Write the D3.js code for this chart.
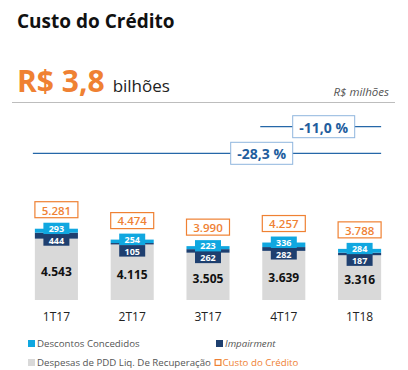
<!DOCTYPE html>
<html>
<head>
<meta charset="utf-8">
<script src="https://cdn.jsdelivr.net/npm/d3@7"></script>
<style>
  html, body { margin: 0; padding: 0; background: #fff; }
  svg { display: block; font-family: "Open Sans", sans-serif; }
</style>
</head>
<body>
<svg id="chart" width="408" height="370"></svg>
<script>
// values in R$ milhões
const quarters = ["1T17", "2T17", "3T17", "4T17", "1T18"];
const pdd = [4543, 4115, 3505, 3639, 3316];
const impairment = [444, 105, 262, 282, 187];
const descontos = [293, 254, 223, 336, 284];
const custo = [5281, 4474, 3990, 4257, 3788];
const custoLabels = ["5.281", "4.474", "3.990", "4.257", "3.788"];
const pddLabels = ["4.543", "4.115", "3.505", "3.639", "3.316"];
const variations = [
  { from: "4T17", to: "1T18", label: "-11,0 %" },
  { from: "1T17", to: "1T18", label: "-28,3 %" }
];

const colors = {
  descontos: "#10A7E0",
  impairment: "#1E3F6F",
  pdd: "#D9D9D9",
  custo: "#EF8133",
  blue: "#2567A8"
};

const svg = d3.select("#chart");

// header
svg.append("text").attr("x", 17).attr("y", 28)
  .attr("font-size", 19).attr("font-weight", 700).attr("fill", "#111")
  .text("Custo do Crédito");

const big = svg.append("text").attr("x", 17).attr("y", 92);
big.append("tspan").attr("font-size", 30).attr("font-weight", 700).attr("fill", colors.custo).text("R$ 3,8");
big.append("tspan").attr("dx", 8).attr("font-size", 17).attr("fill", "#222").text("bilhões");

svg.append("text").attr("x", 389).attr("y", 96).attr("text-anchor", "end")
  .attr("font-size", 11.5).attr("font-style", "italic").attr("fill", "#555")
  .text("R$ milhões");

svg.append("line").attr("x1", 12).attr("x2", 395).attr("y1", 102.5).attr("y2", 102.5)
  .attr("stroke", "#bdbdbd").attr("stroke-width", 1);

// scales
const x = d3.scaleBand().domain(quarters).range([18.5, 397.5]).paddingInner(0.432).paddingOuter(0.216);
const y = d3.scaleLinear().domain([0, 6000]).range([300, 300 - 6000 * 0.0135]);
const bw = x.bandwidth();

const rows = quarters.map((q, i) => ({
  q, pdd: pdd[i], impairment: impairment[i], descontos: descontos[i],
  custo: custo[i], custoLabel: custoLabels[i], pddLabel: pddLabels[i]
}));

const stack = d3.stack().keys(["pdd", "impairment", "descontos"])(rows);

svg.append("g").selectAll("g")
  .data(stack)
  .join("g")
  .attr("fill", d => colors[d.key])
  .selectAll("rect")
  .data(d => d)
  .join("rect")
  .attr("x", d => x(d.data.q))
  .attr("width", bw)
  .attr("y", d => y(d[1]))
  .attr("height", d => y(d[0]) - y(d[1]));

// labels inside / on bars
const lab = svg.append("g").selectAll("g").data(rows).join("g")
  .attr("transform", d => `translate(${x(d.q) + bw / 2},0)`);

// pdd value
lab.append("text")
  .attr("y", d => (y(d.pdd) + y(0)) / 2 + 2)
  .attr("dominant-baseline", "central")
  .attr("text-anchor", "middle")
  .attr("font-size", 12).attr("font-weight", 700).attr("fill", "#111")
  .text(d => d.pddLabel);

// descontos box
const barTop = d => y(d.pdd + d.impairment + d.descontos);
lab.append("rect")
  .attr("x", -13).attr("width", 26)
  .attr("y", d => barTop(d) - 6).attr("height", 11.5)
  .attr("fill", colors.descontos);
lab.append("text")
  .attr("y", d => barTop(d) - 0.3)
  .attr("dominant-baseline", "central").attr("text-anchor", "middle")
  .attr("font-size", 9).attr("font-weight", 700).attr("fill", "#fff")
  .text(d => d.descontos);

// impairment box
lab.append("rect")
  .attr("x", -13).attr("width", 26)
  .attr("y", d => barTop(d) + 5.5).attr("height", 11.5)
  .attr("fill", colors.impairment);
lab.append("text")
  .attr("y", d => barTop(d) + 11.8)
  .attr("dominant-baseline", "central").attr("text-anchor", "middle")
  .attr("font-size", 9).attr("font-weight", 700).attr("fill", "#fff")
  .text(d => d.impairment);

// custo total box
lab.append("rect")
  .attr("x", -21.5).attr("width", 43)
  .attr("y", d => y(d.custo) - 27).attr("height", 16)
  .attr("fill", "#fff").attr("stroke", colors.custo).attr("stroke-width", 1.2);
lab.append("text")
  .attr("y", d => y(d.custo) - 18.7)
  .attr("dominant-baseline", "central").attr("text-anchor", "middle")
  .attr("font-size", 11.5).attr("font-weight", 600).attr("fill", colors.custo)
  .text(d => d.custoLabel);

// x axis labels
svg.append("g").attr("transform", "translate(0,321)")
  .call(d3.axisBottom(x).tickSize(0).tickPadding(0))
  .call(g => g.select(".domain").remove())
  .call(g => g.selectAll("text")
    .attr("dy", 0).attr("y", 0)
    .attr("font-family", "Open Sans, sans-serif")
    .attr("font-size", 12).attr("fill", "#222"));

// variation brackets
const lineY = [126.7, 153.3];
const boxRight = x("4T17") + bw / 2 + (x("1T18") - x("4T17")) / 2 + 33;
variations.forEach((v, i) => {
  const ly = lineY[i];
  const x1 = x(v.from) - 2;
  const x2 = x(v.to) + bw;
  svg.append("line").attr("x1", x1).attr("x2", x2).attr("y1", ly).attr("y2", ly)
    .attr("stroke", colors.blue).attr("stroke-width", 1.3);
  const bx = i === 0 ? boxRight - 62 : boxRight - 124;
  svg.append("rect").attr("x", bx).attr("y", ly - 11).attr("width", 62).attr("height", 22)
    .attr("fill", "#fff").attr("stroke", "#8FB6DE").attr("stroke-width", 1);
  svg.append("text").attr("x", bx + 31).attr("y", ly + 0.5)
    .attr("dominant-baseline", "central").attr("text-anchor", "middle")
    .attr("font-size", 14).attr("font-weight", 700).attr("fill", "#1F5E9E")
    .text(v.label);
});

// legend
const legend = [
  { label: "Descontos Concedidos", color: colors.descontos, x: 28, y: 343.5 },
  { label: "Impairment", color: colors.impairment, x: 216, y: 343.5, italic: true },
  { label: "Despesas de PDD Liq. De Recuperação", color: colors.pdd, x: 28, y: 362.5 },
  { label: "Custo do Crédito", color: colors.custo, x: 214.5, y: 362.5, hollow: true, text: colors.custo }
];
const lg = svg.append("g").selectAll("g").data(legend).join("g")
  .attr("transform", d => `translate(${d.x},${d.y})`);
lg.append("rect")
  .attr("x", d => d.hollow ? 0.6 : 0).attr("y", d => d.hollow ? -2.9 : -3.5)
  .attr("width", d => d.hollow ? 5.8 : 7).attr("height", d => d.hollow ? 5.8 : 7)
  .attr("fill", d => d.hollow ? "#fff" : d.color)
  .attr("stroke", d => d.hollow ? d.color : "none").attr("stroke-width", 1.2);
lg.append("text")
  .attr("x", d => d.hollow ? 8 : 9).attr("y", 0)
  .attr("dominant-baseline", "central")
  .attr("font-size", 9.7)
  .attr("font-style", d => d.italic ? "italic" : "normal")
  .attr("fill", d => d.text || "#555")
  .text(d => d.label);
</script>
</body>
</html>
